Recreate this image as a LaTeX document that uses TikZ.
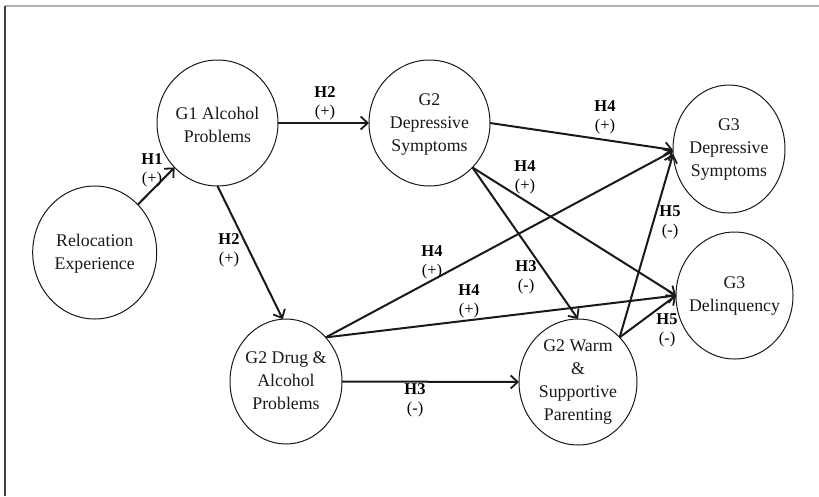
\documentclass[tikz,border=0pt]{standalone}
\usepackage{fontspec}
\setmainfont{Liberation Serif}
\usetikzlibrary{shapes.geometric,arrows.meta}
\begin{document}
\begin{tikzpicture}[x=1pt,y=-1pt,
  latent/.style={ellipse,draw=black!90,line width=1pt,inner sep=0pt,outer sep=0pt},
  txt/.style={align=center,inner sep=0pt,text=black!90,font=\fontsize{17.8}{23}\selectfont},
  hyp/.style={align=center,inner sep=0pt,text=black,font=\fontsize{16.5}{19}\selectfont},
  link/.style={draw=black!90,line width=2pt,-{Straight Barb[length=7pt,width=13pt,line width=1.8pt]}}]
\useasboundingbox (0,0) rectangle (819,496);
% frame
\coordinate (ftl) at (4.8,6);
\coordinate (ftr) at (819,6);
\coordinate (fbl) at (4.8,496);
\draw[gray!60,line width=2pt] (ftl) -- (ftr);
\draw[black!75,line width=1.5pt] (ftl) -- (fbl);
% ellipses
\node[latent,minimum width=124pt,minimum height=133pt] (rel) at (94.7,252.5) {};
\node[latent,minimum width=121pt,minimum height=126pt] (g1) at (217.5,123) {};
\node[latent,minimum width=121pt,minimum height=126pt] (dep2) at (429.5,123) {};
\node[latent,minimum width=112pt,minimum height=125pt] (drug) at (286,381.5) {};
\node[latent,minimum width=118pt,minimum height=126pt] (warm) at (578,382) {};
\node[latent,minimum width=112pt,minimum height=128pt] (dep3) at (729,149) {};
\node[latent,minimum width=117pt,minimum height=127pt] (del3) at (734.5,295.5) {};
% texts
\node[txt] (relt) at (94.7,253.5) {Relocation\\Experience};
\node[txt] (g1t) at (217.5,124.5) {G1 Alcohol\\Problems};
\node[txt] (dep2t) at (429.5,124.5) {G2\\Depressive\\Symptoms};
\node[txt] (drugt) at (286,380.5) {G2 Drug \&\\Alcohol\\Problems};
\node[txt] (warmt) at (578,382.5) {G2 Warm\\\&\\Supportive\\Parenting};
\node[txt] (dep3t) at (729,150) {G3\\Depressive\\Symptoms};
\node[txt] (del3t) at (734.5,296.5) {G3\\Delinquency};
% connectors
\draw[link] (rel.48) -- (g1.226);
\draw[link] (g1.east) -- (dep2.west);
\draw[link] (g1.south) -- (drug.93);
\draw[link] (dep2.east) -- (dep3.181);
\draw[link] (dep2.-46) -- (del3.west);
\draw[link] (dep2.-46) -- (warm.north);
\draw[link] (drug.48) -- (dep3.182);
\draw[link] (drug.48) -- (del3.west);
\draw[link] (drug.east) -- (warm.west);
\draw[link] (warm.47) -- (dep3.185);
\draw[link] (warm.47) -- (del3.west);
% hypothesis labels
\node[hyp] (h1) at (152,170) {\textbf{H1}\\(+)};
\node[hyp] (h2a) at (325,103) {\textbf{H2}\\(+)};
\node[hyp] (h2b) at (229,250) {\textbf{H2}\\(+)};
\node[hyp] (h4a) at (605,117.5) {\textbf{H4}\\(+)};
\node[hyp] (h4b) at (525,177.5) {\textbf{H4}\\(+)};
\node[hyp] (h4c) at (432,262.5) {\textbf{H4}\\(+)};
\node[hyp] (h4d) at (469,301.5) {\textbf{H4}\\(+)};
\node[hyp] (h3a) at (526,277.5) {\textbf{H3}\\(-)};
\node[hyp] (h5a) at (670,222.5) {\textbf{H5}\\(-)};
\node[hyp] (h5b) at (667,330.5) {\textbf{H5}\\(-)};
\node[hyp] (h3b) at (415,400.5) {\textbf{H3}\\(-)};
\end{tikzpicture}
\end{document}
